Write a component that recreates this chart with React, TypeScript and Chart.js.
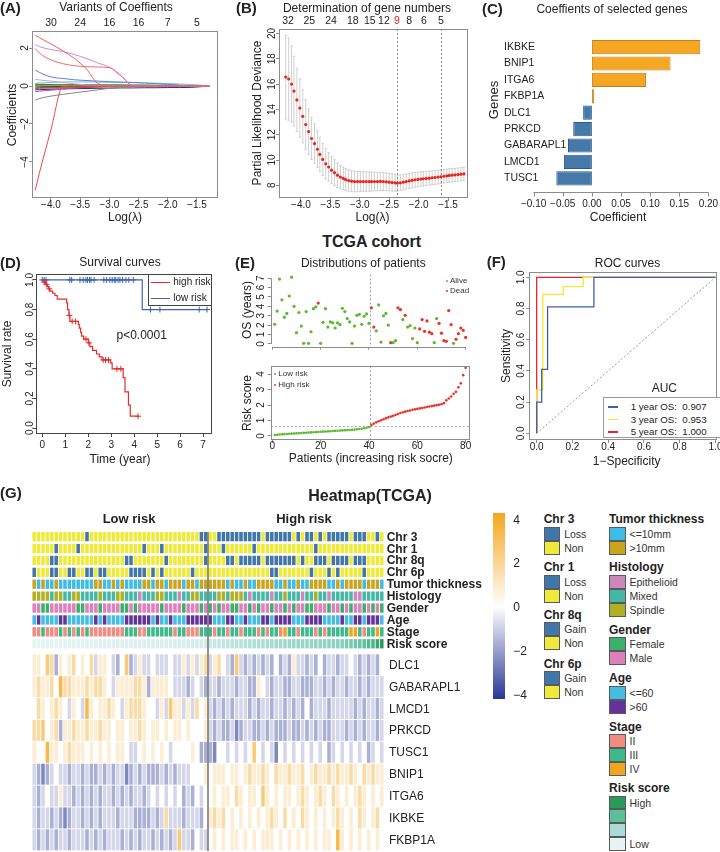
import React, { useEffect, useRef } from "react";
import { Chart, registerables } from "chart.js";

Chart.register(...registerables);

const FONT = "'Liberation Sans', Arial, Helvetica, sans-serif";
Chart.defaults.font.family = FONT;
Chart.defaults.color = "#222";
const MINUS = "\u2212";
const fmt = (v: number, d: number) => (v < -1e-9 ? MINUS : "") + Math.abs(v).toFixed(d);
const AX = "#8c8c8c";

// ================= (A) coefficient paths =================
const lambdaA = [-4.27, -4.2, -4.0, -3.8, -3.6, -3.4, -3.2, -3.0, -2.8, -2.6, -2.4, -2.2, -2.0, -1.8, -1.6, -1.45, -1.29];
const coefA_r1 = [2.68, 2.55, 2.22, 1.86, 1.46, 0.92, 0.14, 0, 0, 0, 0, 0, 0, 0, 0, 0, 0];
const coefA_r2 = [1.98, 1.74, 1.38, 1.18, 1.07, 1.02, 1.0, 0.97, 0.55, 0.02, 0, 0, 0, 0, 0, 0, 0];
const coefA_pk = [2.18, 2.08, 1.92, 1.82, 1.66, 1.46, 1.22, 0.99, 0.52, 0.02, 0, 0, 0, 0, 0, 0, 0];
const coefA_r3 = [-5.5, -4.6, -2.3, -0.05, 0, 0, 0, 0, 0, 0, 0, 0, 0, 0, 0, 0, 0];
const coefA_bl = [0.84, 0.72, 0.48, 0.4, 0.33, 0.29, 0.26, 0.23, 0.21, 0.19, 0.16, 0.13, 0.09, 0.04, 0.01, 0, 0];
const coefA_gy = [-0.74, -0.66, -0.53, -0.44, -0.36, -0.28, -0.2, -0.12, -0.05, 0, 0, 0, 0, 0, 0, 0, 0];
const coefA_lp = [0.36, 0.32, 0.26, 0.19, 0.12, 0.06, 0.02, 0, 0, 0, 0, 0, 0, 0, 0, 0, 0];
const coefA_cy = [0.14, 0.16, 0.19, 0.21, 0.22, 0.22, 0.21, 0.2, 0.19, 0.18, 0.16, 0.15, 0.13, 0.11, 0.08, 0.05, 0];
const coefA_gn = [0.06, 0.07, 0.08, 0.08, 0.08, 0.08, 0.07, 0.07, 0.07, 0.06, 0.06, 0.05, 0.05, 0.04, 0.03, 0.02, 0];
const coefA_nv = [-0.2, -0.19, -0.17, -0.15, -0.14, -0.13, -0.12, -0.11, -0.1, -0.1, -0.09, -0.09, -0.08, -0.08, -0.07, -0.04, 0];
const coefA_pu = [-0.3, -0.27, -0.22, -0.16, -0.1, -0.05, -0.02, 0, 0, 0, 0, 0, 0, 0, 0, 0, 0];
const coefA_ol = [0.03, 0.03, 0.04, 0.04, 0.04, 0.03, 0.03, 0.02, 0.02, 0.01, 0, 0, 0, 0, 0, 0, 0];
const coefA_br = [-0.09, -0.08, -0.07, -0.06, -0.05, -0.04, -0.03, -0.02, -0.01, 0, 0, 0, 0, 0, 0, 0, 0];
const coefA_dg = [0.1, 0.09, 0.08, 0.06, 0.04, 0.02, 0, 0, 0, 0, 0, 0, 0, 0, 0, 0, 0];
const coefA_mg = [-0.13, -0.12, -0.11, -0.1, -0.09, -0.08, -0.06, -0.04, -0.02, 0, 0, 0, 0, 0, 0, 0, 0];
const coefA_bk = [0.0, -0.01, -0.02, -0.03, -0.03, -0.03, -0.03, -0.02, -0.02, -0.01, -0.01, 0, 0, 0, 0, 0, 0];
const coefPathsA = [coefA_r1, coefA_r2, coefA_pk, coefA_r3, coefA_bl, coefA_gy, coefA_lp, coefA_cy, coefA_ol, coefA_br, coefA_mg, coefA_pu, coefA_dg, coefA_nv, coefA_bk, coefA_gn];
const coefColorsA = ["#f25a5a", "#f06a6a", "#cf8ad6", "#f24848", "#5b7fdb", "#858585", "#c8a0e0", "#5ec8d0", "#9a9a2a", "#8b5a2b", "#d03c8c", "#9b59b6", "#2e7d32", "#23307a", "#333333", "#3f9a3f"];
const ticksLogLambda = [-4.0, -3.5, -3.0, -2.5, -2.0, -1.5];
const dfLabelsA = ["30", "24", "16", "16", "7", "5"];

// ================= (B) cross-validation =================
const lambdaB = [-4.26, -4.21, -4.16, -4.12, -4.07, -4.02, -3.97, -3.92, -3.87, -3.82, -3.77, -3.72, -3.68, -3.63, -3.58, -3.53, -3.48, -3.43, -3.38, -3.33, -3.28, -3.24, -3.19, -3.14, -3.09, -3.04, -2.99, -2.94, -2.89, -2.84, -2.8, -2.75, -2.7, -2.65, -2.6, -2.55, -2.5, -2.45, -2.4, -2.36, -2.31, -2.26, -2.21, -2.16, -2.11, -2.06, -2.01, -1.96, -1.92, -1.87, -1.82, -1.77, -1.72, -1.67, -1.62, -1.57, -1.52, -1.48, -1.43, -1.38, -1.33, -1.28, -1.23];
const cvMean = [16.55, 16.4, 16.0, 15.45, 14.75, 14.1, 13.45, 12.8, 12.25, 11.7, 11.3, 10.85, 10.45, 10.05, 9.7, 9.45, 9.2, 9.0, 8.8, 8.65, 8.55, 8.45, 8.38, 8.33, 8.3, 8.3, 8.3, 8.3, 8.3, 8.3, 8.3, 8.3, 8.3, 8.31, 8.3, 8.28, 8.25, 8.22, 8.2, 8.18, 8.2, 8.25, 8.3, 8.35, 8.4, 8.44, 8.47, 8.5, 8.52, 8.55, 8.57, 8.6, 8.62, 8.65, 8.68, 8.72, 8.75, 8.78, 8.8, 8.83, 8.85, 8.88, 8.9];
const cvSd = [3.3, 3.25, 3.0, 2.75, 2.5, 2.3, 2.1, 1.95, 1.8, 1.65, 1.55, 1.45, 1.35, 1.27, 1.2, 1.13, 1.07, 1.02, 0.97, 0.93, 0.9, 0.87, 0.85, 0.83, 0.82, 0.8, 0.79, 0.78, 0.77, 0.76, 0.75, 0.74, 0.73, 0.72, 0.71, 0.7, 0.69, 0.68, 0.66, 0.64, 0.62, 0.61, 0.6, 0.6, 0.59, 0.58, 0.57, 0.57, 0.56, 0.56, 0.55, 0.55, 0.55, 0.54, 0.54, 0.54, 0.53, 0.53, 0.53, 0.52, 0.52, 0.52, 0.52];
const dfB_at = [-4.22, -3.86, -3.49, -3.12, -2.83, -2.59, -2.37, -2.16, -1.91, -1.62];
const dfB_lab = ["32", "25", "24", "18", "15", "12", "9", "8", "6", "5"];
const lambdaMin = -2.37;
const lambda1se = -1.62;

// ================= (C) selected genes =================
const genesC = ["IKBKE", "BNIP1", "ITGA6", "FKBP1A", "DLC1", "PRKCD", "GABARAPL1", "LMCD1", "TUSC1"];
const coefC = [0.186, 0.135, 0.093, 0.004, -0.015, -0.032, -0.041, -0.048, -0.061];
const ticksC = [-0.1, -0.05, 0, 0.05, 0.1, 0.15, 0.2];

// ================= (D) Kaplan-Meier =================
const kmHighT = [0, 0.08, 0.14, 0.22, 0.28, 0.33, 0.45, 0.55, 0.65, 1.06, 1.1, 1.16, 1.2, 1.57, 1.61, 1.67, 1.71, 1.8, 2.0, 2.07, 2.19, 2.36, 2.48, 2.6, 2.97, 3.04, 3.52, 3.6, 3.75, 3.83, 4.17];
const kmHighS = [1, 0.985, 0.97, 0.955, 0.94, 0.925, 0.91, 0.895, 0.87, 0.845, 0.8, 0.76, 0.72, 0.7, 0.675, 0.645, 0.62, 0.6, 0.575, 0.55, 0.525, 0.5, 0.48, 0.46, 0.44, 0.4, 0.34, 0.245, 0.155, 0.08, 0.08];
const censHighT = [0.1, 0.18, 0.3, 1.18, 1.3, 1.45, 1.9, 2.03, 2.65, 2.75, 2.88, 3.25, 3.42, 4.17];
const kmLowT = [0, 4.35, 7.17];
const kmLowS = [1, 0.8, 0.8];
const censLowT = [0.0, 0.08, 0.16, 1.2, 1.28, 1.64, 1.78, 1.9, 1.97, 2.05, 2.12, 2.26, 2.68, 2.8, 2.94, 3.04, 3.13, 3.2, 3.3, 3.38, 3.5, 3.64, 3.77, 3.96, 4.71, 5.12, 6.83, 7.17];

// ================= (E) patient distributions =================
const osYears = [2.1, 3.5, 6.9, 4.7, 2.85, 3.25, 5.1, 7.1, 4.0, 1.2, 3.35, 1.9, 0.07, 3.45, 0.07, 1.3, 3.75, 3.95, 4.35, 0.07, 2.3, 3.75, 1.8, 2.35, 2.25, 1.7, 2.25, 2.05, 3.8, 3.45, 2.7, 2.35, 0.07, 1.9, 3.05, 3.15, 2.1, 2.95, 3.2, 2.2, 3.85, 1.8, 1.4, 4.15, 0.2, 3.0, 3.25, 2.0, 0.14, 0.14, 0.35, 3.85, 3.65, 2.6, 3.05, 1.8, 1.95, 0.57, 1.7, 0.14, 1.6, 2.6, 1.35, 2.45, 1.25, 1.1, 0.14, 2.7, 2.2, 1.15, 0.35, 0.28, 3.55, 2.05, 0.07, 0.5, 1.1, 1.7, 1.45, 0.7];
const osDead = [0, 0, 0, 0, 0, 0, 0, 0, 0, 0, 0, 0, 0, 0, 0, 0, 0, 0, 1, 0, 0, 0, 0, 0, 0, 0, 0, 0, 0, 0, 0, 0, 0, 0, 0, 0, 0, 0, 0, 0, 1, 1, 0, 0, 0, 0, 0, 0, 1, 0, 0, 1, 1, 0, 1, 0, 0, 0, 0, 0, 1, 1, 1, 1, 1, 1, 0, 0, 1, 1, 1, 1, 1, 1, 0, 1, 1, 1, 1, 1];
const riskScore = [0.06, 0.08, 0.1, 0.11, 0.12, 0.13, 0.14, 0.15, 0.16, 0.17, 0.18, 0.19, 0.2, 0.21, 0.22, 0.23, 0.24, 0.25, 0.26, 0.27, 0.28, 0.29, 0.3, 0.31, 0.32, 0.33, 0.34, 0.35, 0.36, 0.37, 0.38, 0.39, 0.4, 0.41, 0.43, 0.45, 0.47, 0.5, 0.53, 0.58,
  0.72, 0.8, 0.88, 0.95, 1.02, 1.08, 1.14, 1.2, 1.25, 1.3, 1.36, 1.42, 1.48, 1.53, 1.57, 1.61, 1.65, 1.69, 1.72, 1.75, 1.78, 1.81, 1.84, 1.87, 1.9, 1.93, 1.96, 1.99, 2.02, 2.05, 2.12, 2.3, 2.42, 2.55, 2.72, 2.85, 3.15, 3.4, 3.93, 4.4];
const riskCutoff = 0.65;
const lowHighSplit = 40.5;

// ================= (F) ROC =================
const roc1X = [0, 0, 0.028, 0.028, 0.061, 0.061, 0.32, 0.32, 1];
const roc1Y = [0, 0.2, 0.2, 0.41, 0.41, 0.81, 0.81, 1, 1];
const roc3X = [0, 0, 0.034, 0.034, 0.149, 0.149, 0.26, 0.26, 1];
const roc3Y = [0, 0.278, 0.278, 0.89, 0.89, 0.94, 0.94, 1, 1];
const roc5X = [0, 0, 1];
const roc5Y = [0, 1, 1];
const aucLabels = ["1 year OS:  0.907", "3 year OS:  0.953", "5 year OS:  1.000"];

// ================= (G) heatmap =================
const chr3 = "YYYYYYYYYY" + "YYBYYYYYYY" + "YYYYYYYYYY" + "YYYYYYYYBB" + "YYBBBBBBBB" + "BBYBBBBBBY" + "BYBBYBYBBB" + "BBYBBBYYBY";
const chr1 = "YYYYYBYYYY" + "BYYYYYYYYY" + "YYYYYBYYYB" + "YYYYYYYYYB" + "YYYBYYYYYY" + "BYYYYYYYYY" + "YYYYBYYYYY" + "YYYYYYYYYY";
const chr8q = "YYYYBBYYYY" + "YYYYYYYYYY" + "YBBYYYYYYY" + "BYYYYYYYYB" + "YYYYBBYBBB" + "BBYBBBBBBB" + "YBYYBBBYBB" + "BBYBBBYYYY";
const chr6p = "BYYYBBYYBB" + "YYBBYBBYYY" + "YYBBBBYBYB" + "YYYYYYBYYY" + "YYYYYYYYYY" + "YYYYBBYYYY" + "YYYBYYYBYB" + "YYYYYBYYYY";
const tumor = "GCGCCGCCCC" + "CCCCGGCCGC" + "GCCCCGGCGG" + "CGGGCGGCGG" + "GGGGCGCCGC" + "CGGGGCCGCC" + "GCCGGGGCCG" + "CGGGGCGGGC";
const histology = "SSSSMSSMMS" + "SMMMMSMMMS" + "SMMMEMMMSS" + "MMMEMMSSMM" + "MMSSMSSSME" + "MMMMEMMSMM" + "MEMMSMMEMM" + "MMMEEMMMMM";
const gender = "MMFFMMMMMM" + "FFMMMFMMMM" + "FFMFMMMMMF" + "MMMMFMMMFM" + "FMFMMFFMMF" + "MFMMFMMFMF" + "MMFFMMMFMM" + "FMFMMFMFMF";
const age = "YOYYYYOOYY" + "YYYYOYOYYY" + "YOOOOOOYOY" + "YOYYYOOOOO" + "OYYYOOYYOY" + "YYOOYOOOOY" + "YYOOOOYYYY" + "OYYOOYOOOY";
const stage = "aabaaababa" + "babaaaaaaa" + "abbbaabbbb" + "bbabbaaabb" + "babbabbabb" + "bababbacbb" + "abbbababbb" + "bbccbabbcb";
// expression codes: value = (digit - 5) * 0.8
const exDLC1 = "6658736567" + "5657466543" + "5834644544" + "4544646467" + "4675438434" + "3434353436" + "4434353443" + "4454343435";
const exGABARAPL1 = "6766759776" + "6676776546" + "6667763666" + "6544434543" + "4434443443" + "3654344334" + "4333443434" + "4344343444";
const exLMCD1 = "5765676546" + "5496566765" + "4677765546" + "4866464756" + "4343434443" + "4344344343" + "4353444344" + "4443434434";
const exPRKCD = "7785673667" + "6676676656" + "6566765665" + "6566565556" + "4343342344" + "3343433343" + "3434343344" + "4343434434";
const exTUSC1 = "6559665676" + "6656565656" + "6544565656" + "5455556533" + "3255454545" + "8545425454" + "5454545345" + "4545453454";
const exBNIP1 = "4323454434" + "4343343434" + "4234343334" + "3434445556" + "5666566567" + "6676576676" + "6756766767" + "6676576766";
const exITGA6 = "4345446443" + "4343434434" + "3434434545" + "4545343545" + "5656657656" + "6586565665" + "6765676576" + "5656765656";
const exIKBKE = "4344343234" + "4343434443" + "4443333434" + "7444344435" + "6767565656" + "5656765756" + "5765656567" + "6565765675";
const exFKBP1A = "4343434434" + "4434343444" + "3434344343" + "4348443544" + "5656566565" + "6566656565" + "6565656659" + "6565656565";
const annoNames = ["Chr 3", "Chr 1", "Chr 8q", "Chr 6p", "Tumor thickness", "Histology", "Gender", "Age", "Stage", "Risk score"];
const geneNamesG = ["DLC1", "GABARAPL1", "LMCD1", "PRKCD", "TUSC1", "BNIP1", "ITGA6", "IKBKE", "FKBP1A"];
const geneCodesG = [exDLC1, exGABARAPL1, exLMCD1, exPRKCD, exTUSC1, exBNIP1, exITGA6, exIKBKE, exFKBP1A];
const colorbarTicks = [4, 2, 0, -2, -4];

// colours
const CHR_C: any = { B: "#4176aa", Y: "#eeea3c" };
const TUM_C: any = { C: "#3ebbe6", G: "#c9a51c" };
const HIS_C: any = { E: "#cc88bb", M: "#45b8a5", S: "#b0b025" };
const GEN_C: any = { F: "#3cb06a", M: "#dd80bb" };
const AGE_C: any = { Y: "#44bde0", O: "#64339a" };
const STG_C: any = { a: "#f28b80", b: "#3dba8a", c: "#efa51f" };
const RISK_STOPS = ["#e6f4f4", "#a8dcd4", "#5cbf99", "#2a9a5a"];
const POS = [246, 166, 30];
const NEG = [40, 55, 150];

const hex = (h: string) => [parseInt(h.slice(1, 3), 16), parseInt(h.slice(3, 5), 16), parseInt(h.slice(5, 7), 16)];
const mix = (a: number[], b: number[], t: number) => `rgb(${Math.round(a[0] + (b[0] - a[0]) * t)},${Math.round(a[1] + (b[1] - a[1]) * t)},${Math.round(a[2] + (b[2] - a[2]) * t)})`;
const heatColor = (v: number) => {
  const t = Math.min(Math.abs(v) / 4, 1);
  return mix([255, 255, 255], v >= 0 ? POS : NEG, t);
};
const riskColor = (s: number) => {
  const mn = Math.min(...riskScore), mx = Math.max(...riskScore);
  const t = (s - mn) / (mx - mn);
  const seg = Math.min(Math.floor(t * 3), 2);
  return mix(hex(RISK_STOPS[seg]), hex(RISK_STOPS[seg + 1]), t * 3 - seg);
};
const kmAt = (T: number[], S: number[], t: number) => {
  let s = S[0];
  for (let i = 0; i < T.length; i++) if (T[i] <= t) s = S[i];
  return s;
};

// ================= layout helpers =================
type CV = { x: number; y: number; w: number; h: number };
type AR = { l: number; t: number; r: number; b: number };
const cvA: CV = { x: 0, y: 0, w: 232, h: 232 }, arA: AR = { l: 32, t: 31, r: 218, b: 198 };
const cvB: CV = { x: 245, y: 0, w: 235, h: 232 }, arB: AR = { l: 279, t: 29, r: 468, b: 198 };
const cvC: CV = { x: 480, y: 20, w: 250, h: 212 }, arC: AR = { l: 504, t: 38.9, r: 716, b: 186.5 };
const cvD: CV = { x: 0, y: 255, w: 225, h: 215 }, arD: AR = { l: 36, t: 274, r: 212.3, b: 434 };
const cvE1: CV = { x: 240, y: 262, w: 240, h: 94 }, arE1: AR = { l: 270.7, t: 274.4, r: 470, b: 346.7 };
const cvE2: CV = { x: 240, y: 354, w: 240, h: 116 }, arE2: AR = { l: 270.7, t: 366, r: 470, b: 440 };
const cvF: CV = { x: 495, y: 258, w: 235, h: 212 }, arF: AR = { l: 529.3, t: 271.7, r: 717.5, b: 440 };
const cvG: CV = { x: 32, y: 532, w: 352, h: 319 };
const CANVASES = [cvA, cvB, cvC, cvD, cvE1, cvE2, cvF, cvG];

const base = (cv: CV, ar: AR, top = false) => ({
  responsive: false,
  maintainAspectRatio: false,
  animation: false,
  devicePixelRatio: 1,
  events: [],
  layout: { padding: { left: 0, bottom: 0, top: top ? 0 : ar.t - cv.y, right: cv.x + cv.w - ar.r } },
  plugins: { legend: { display: false }, tooltip: { enabled: false }, title: { display: false } },
});
const setTicks = (vals: number[]) => (s: any) => {
  s.ticks = vals.map((v) => ({ value: v }));
};
const tfont = { family: FONT, size: 10 };
const axX = (cv: CV, ar: AR, min: number, max: number, ticks: number[], cb: any, pad: number, tickColor = AX, labels = true) => ({
  type: "linear", position: "bottom", min, max, bounds: "data",
  afterBuildTicks: setTicks(ticks),
  afterFit: (s: any) => { s.height = cv.y + cv.h - ar.b; },
  grid: { display: true, drawOnChartArea: false, drawTicks: true, tickLength: 3, color: tickColor },
  border: { display: false },
  ticks: { display: labels, font: tfont, color: "#222", padding: pad, autoSkip: false, maxRotation: 0, minRotation: 0, callback: cb },
});
const axY = (cv: CV, ar: AR, min: number, max: number, ticks: number[], cb: any, pad: number, tickColor = AX) => ({
  type: "linear", position: "left", min, max, bounds: "data",
  afterBuildTicks: setTicks(ticks),
  afterFit: (s: any) => { s.width = ar.l - cv.x; },
  grid: { display: true, drawOnChartArea: false, drawTicks: true, tickLength: 3, color: tickColor },
  border: { display: false },
  ticks: { font: tfont, color: "#222", padding: pad, autoSkip: false, minRotation: 90, maxRotation: 90, crossAlign: "center", callback: cb },
});
const axTop = (cv: CV, ar: AR, min: number, max: number, at: number[], labs: string[], pad: number, color: any = "#222") => ({
  type: "linear", position: "top", min, max, bounds: "data",
  afterBuildTicks: setTicks(at),
  afterFit: (s: any) => { s.height = ar.t - cv.y; },
  grid: { display: false, drawTicks: false },
  border: { display: false },
  ticks: { font: { family: FONT, size: 10.5 }, color, padding: pad, autoSkip: false, maxRotation: 0, minRotation: 0, callback: (_v: any, i: number) => labs[i] },
});

// ================= plugins =================
const frame = (color: string) => ({
  id: "frame",
  afterDatasetsDraw(chart: any) {
    const { ctx, chartArea: a } = chart;
    ctx.save();
    ctx.strokeStyle = color;
    ctx.lineWidth = 1;
    ctx.strokeRect(Math.round(a.left) + 0.5, Math.round(a.top) + 0.5, Math.round(a.right - a.left) - 1, Math.round(a.bottom - a.top) - 1);
    ctx.restore();
  },
});
const refLines = (vx: number[], hy: number[], color = "#a8a8a8") => ({
  id: "refLines",
  beforeDatasetsDraw(chart: any) {
    const { ctx, chartArea: a, scales } = chart;
    ctx.save();
    ctx.strokeStyle = color;
    ctx.lineWidth = 1;
    ctx.setLineDash([2, 2]);
    vx.forEach((v) => {
      const px = Math.round(scales.x.getPixelForValue(v)) + 0.5;
      ctx.beginPath(); ctx.moveTo(px, a.top); ctx.lineTo(px, a.bottom); ctx.stroke();
    });
    hy.forEach((v) => {
      const py = Math.round(scales.y.getPixelForValue(v)) + 0.5;
      ctx.beginPath(); ctx.moveTo(a.left, py); ctx.lineTo(a.right, py); ctx.stroke();
    });
    ctx.restore();
  },
});
const errBars = {
  id: "errBars",
  beforeDatasetsDraw(chart: any) {
    const { ctx, scales: { x, y } } = chart;
    ctx.save();
    ctx.strokeStyle = "#c4c4c4";
    ctx.lineWidth = 0.8;
    lambdaB.forEach((lx, i) => {
      const px = x.getPixelForValue(lx);
      const top = y.getPixelForValue(cvMean[i] + cvSd[i]);
      const bot = y.getPixelForValue(cvMean[i] - cvSd[i]);
      ctx.beginPath();
      ctx.moveTo(px, top); ctx.lineTo(px, bot);
      ctx.moveTo(px - 1.3, top); ctx.lineTo(px + 1.3, top);
      ctx.moveTo(px - 1.3, bot); ctx.lineTo(px + 1.3, bot);
      ctx.stroke();
    });
    ctx.restore();
  },
};
const cAxis = {
  id: "cAxis",
  afterDraw(chart: any) {
    const { ctx, chartArea: a, scales: { x } } = chart;
    const y0 = Math.round(a.bottom + 5) + 0.5;
    ctx.save();
    ctx.strokeStyle = AX;
    ctx.lineWidth = 1;
    ctx.beginPath();
    ctx.moveTo(x.getPixelForValue(ticksC[0]), y0);
    ctx.lineTo(x.getPixelForValue(ticksC[ticksC.length - 1]), y0);
    ticksC.forEach((v) => {
      const px = Math.round(x.getPixelForValue(v)) + 0.5;
      ctx.moveTo(px, y0); ctx.lineTo(px, y0 + 4);
    });
    ctx.stroke();
    ctx.restore();
  },
};
const lAxes = (color: string) => ({
  id: "lAxes",
  afterDatasetsDraw(chart: any) {
    const { ctx, chartArea: a, scales: { x, y } } = chart;
    const xt = x.ticks, yt = y.ticks;
    ctx.save();
    ctx.strokeStyle = color;
    ctx.lineWidth = 1;
    ctx.beginPath();
    const lx = Math.round(a.left) + 0.5, by = Math.round(a.bottom) + 0.5;
    ctx.moveTo(lx, y.getPixelForValue(yt[0].value)); ctx.lineTo(lx, y.getPixelForValue(yt[yt.length - 1].value));
    ctx.moveTo(x.getPixelForValue(xt[0].value), by); ctx.lineTo(x.getPixelForValue(xt[xt.length - 1].value), by);
    ctx.stroke();
    ctx.restore();
  },
});
const divider = {
  id: "divider",
  afterDatasetsDraw(chart: any) {
    const { ctx, chartArea: a, scales: { x } } = chart;
    const px = (x.getPixelForValue(39) + x.getPixelForValue(40)) / 2;
    ctx.save();
    ctx.strokeStyle = "#7a7a7a";
    ctx.lineWidth = 1.6;
    ctx.beginPath(); ctx.moveTo(px, a.top); ctx.lineTo(px, a.bottom); ctx.stroke();
    ctx.restore();
  },
};

// ================= chart configs =================
const cfgA = () => ({
  type: "line",
  data: {
    datasets: coefPathsA.map((p, i) => ({
      data: lambdaA.map((x, j) => ({ x, y: p[j] })),
      borderColor: coefColorsA[i], borderWidth: 1, pointRadius: 0, cubicInterpolationMode: "monotone", fill: false,
    })),
  },
  options: {
    ...base(cvA, arA, true),
    scales: {
      x: axX(cvA, arA, -4.325, -1.14, ticksLogLambda, (v: number) => fmt(v, 1), -1.3),
      x2: axTop(cvA, arA, -4.325, -1.14, ticksLogLambda, dfLabelsA, 1.7),
      y: axY(cvA, arA, -5.9, 2.9, [-4, -2, 0, 2], (v: number) => fmt(v, 0), -1.5),
    },
  },
  plugins: [frame(AX)],
});

const cfgB = () => ({
  type: "scatter",
  data: { datasets: [{ data: lambdaB.map((x, i) => ({ x, y: cvMean[i] })), backgroundColor: "#e8251f", borderWidth: 0, pointRadius: 1.6 }] },
  options: {
    ...base(cvB, arB, true),
    scales: {
      x: axX(cvB, arB, -4.374, -1.16, ticksLogLambda, (v: number) => fmt(v, 1), -1.3),
      x2: axTop(cvB, arB, -4.374, -1.16, dfB_at, dfB_lab, 1.3, (c: any) => (c.index === 6 ? "#e8251f" : "#222")),
      y: axY(cvB, arB, 7.0, 20.35, [8, 10, 12, 14, 16, 18, 20], (v: number) => fmt(v, 0), -1.9),
    },
  },
  plugins: [frame(AX), errBars, refLines([lambdaMin, lambda1se], [], "#8a8a8a")],
});

const cfgC = () => ({
  type: "bar",
  data: {
    labels: genesC,
    datasets: [{
      data: coefC,
      backgroundColor: coefC.map((v) => (v > 0 ? "#f5a623" : "#4479aa")),
      borderColor: coefC.map((v) => (v > 0 ? "#bf7f1c" : "#2d5a86")),
      borderWidth: 1, borderSkipped: false, barPercentage: 0.866, categoryPercentage: 1,
    }],
  },
  options: {
    ...base(cvC, arC),
    indexAxis: "y",
    scales: {
      x: {
        type: "linear", min: -0.1508, max: 0.2085, bounds: "data",
        afterBuildTicks: setTicks(ticksC),
        afterFit: (s: any) => { s.height = cvC.y + cvC.h - arC.b; },
        grid: { display: false, drawTicks: false }, border: { display: false },
        ticks: { font: tfont, color: "#222", padding: 11.5, autoSkip: false, maxRotation: 0, callback: (v: number) => fmt(v, 2) },
      },
      y: {
        type: "category",
        afterFit: (s: any) => { s.width = arC.l - cvC.x; },
        grid: { display: false, drawTicks: false }, border: { display: false },
        ticks: { mirror: true, padding: 0, font: { family: FONT, size: 10.5 }, color: "#222" },
      },
    },
  },
  plugins: [cAxis],
});

const RED = "#e52b2b", BLUE = "#3c64af";
const cfgD = () => ({
  type: "scatter",
  data: {
    datasets: [
      { type: "line", data: kmHighT.map((x, i) => ({ x, y: kmHighS[i] })), stepped: true, borderColor: RED, borderWidth: 1.2, pointRadius: 0, fill: false },
      { type: "line", data: kmLowT.map((x, i) => ({ x, y: kmLowS[i] })), stepped: true, borderColor: BLUE, borderWidth: 1.2, pointRadius: 0, fill: false },
      { data: censHighT.map((t) => ({ x: t, y: kmAt(kmHighT, kmHighS, t) })), pointStyle: "cross", pointRadius: 3, borderColor: RED, borderWidth: 1, backgroundColor: RED },
      { data: censLowT.map((t) => ({ x: t, y: kmAt(kmLowT, kmLowS, t) })), pointStyle: "cross", pointRadius: 3, borderColor: BLUE, borderWidth: 1, backgroundColor: BLUE },
    ],
  },
  options: {
    ...base(cvD, arD),
    scales: {
      x: axX(cvD, arD, -0.274, 7.4, [0, 1, 2, 3, 4, 5, 6, 7], (v: number) => String(v), 2, "#444"),
      y: axY(cvD, arD, -0.04, 1.04, [0, 0.2, 0.4, 0.6, 0.8, 1.0], (v: number) => v.toFixed(1), -4, "#444"),
    },
  },
  plugins: [frame("#444")],
});

const GREEN_E = "#5cb82e", RED_E = "#e8322b";
const cfgE1 = () => ({
  type: "scatter",
  data: {
    datasets: [
      { data: osYears.map((y, i) => ({ x: i + 1, y })).filter((_, i) => !osDead[i]), backgroundColor: GREEN_E, borderWidth: 0, pointRadius: 1.6 },
      { data: osYears.map((y, i) => ({ x: i + 1, y })).filter((_, i) => osDead[i]), backgroundColor: RED_E, borderWidth: 0, pointRadius: 1.6 },
    ],
  },
  options: {
    ...base(cvE1, arE1),
    scales: {
      x: axX(cvE1, arE1, -0.66, 81.8, [0, 20, 40, 60, 80], (v: number) => String(v), 0, AX, false),
      y: axY(cvE1, arE1, -0.29, 7.4, [0, 1, 2, 3, 4, 5, 6, 7], (v: number) => String(v), 3.2),
    },
  },
  plugins: [lAxes(AX), refLines([lowHighSplit], [])],
});

const cfgE2 = () => ({
  type: "scatter",
  data: {
    datasets: [
      { data: riskScore.map((y, i) => ({ x: i + 1, y })).filter((_, i) => i < 40), backgroundColor: GREEN_E, borderWidth: 0, pointRadius: 1.3 },
      { data: riskScore.map((y, i) => ({ x: i + 1, y })).filter((_, i) => i >= 40), backgroundColor: RED_E, borderWidth: 0, pointRadius: 1.3 },
    ],
  },
  options: {
    ...base(cvE2, arE2),
    scales: {
      x: axX(cvE2, arE2, -0.66, 81.8, [0, 20, 40, 60, 80], (v: number) => String(v), -2.3),
      y: axY(cvE2, arE2, -0.26, 4.52, [0, 1, 2, 3, 4], (v: number) => String(v), 3.2),
    },
  },
  plugins: [frame(AX), refLines([lowHighSplit], [riskCutoff])],
});

const ROC_B = "#3b5fa8", ROC_Y = "#eeea30", ROC_R = "#e8232b";
const cfgF = () => ({
  type: "scatter",
  data: {
    datasets: [
      { type: "line", data: [{ x: 0, y: 0 }, { x: 1, y: 1 }], borderColor: "#9a9a9a", borderDash: [2, 2], borderWidth: 1, pointRadius: 0 },
      { type: "line", data: roc1X.map((x, i) => ({ x, y: roc1Y[i] })), borderColor: ROC_B, borderWidth: 1.3, pointRadius: 0 },
      { type: "line", data: roc3X.map((x, i) => ({ x, y: roc3Y[i] })), borderColor: ROC_Y, borderWidth: 1.3, pointRadius: 0 },
      { type: "line", data: roc5X.map((x, i) => ({ x, y: roc5Y[i] })), borderColor: ROC_R, borderWidth: 1.3, pointRadius: 0 },
    ],
  },
  options: {
    ...base(cvF, arF),
    scales: {
      x: axX(cvF, arF, -0.0413, 1.011, [0, 0.2, 0.4, 0.6, 0.8, 1.0], (v: number) => v.toFixed(1), -1.3),
      y: axY(cvF, arF, -0.043, 1.036, [0, 0.2, 0.4, 0.6, 0.8, 1.0], (v: number) => v.toFixed(1), -2.35),
    },
  },
  plugins: [frame(AX)],
});

const ANNO_PITCH = 11.9, ANNO_H = 9.3, GENE_TOP = 122.3, GENE_PITCH = 21.875, GENE_H = 21;
const cfgG = () => {
  const annoColors = [
    chr3.split("").map((c) => CHR_C[c]),
    chr1.split("").map((c) => CHR_C[c]),
    chr8q.split("").map((c) => CHR_C[c]),
    chr6p.split("").map((c) => CHR_C[c]),
    tumor.split("").map((c) => TUM_C[c]),
    histology.split("").map((c) => HIS_C[c]),
    gender.split("").map((c) => GEN_C[c]),
    age.split("").map((c) => AGE_C[c]),
    stage.split("").map((c) => STG_C[c]),
    riskScore.map((s) => riskColor(s)),
  ];
  const geneColors = geneCodesG.map((s) => s.split("").map((d) => heatColor((Number(d) - 5) * 0.8)));
  const rows = [
    ...annoColors.map((cols, i) => ({ cols, top: i * ANNO_PITCH, h: ANNO_H })),
    ...geneColors.map((cols, j) => ({ cols, top: GENE_TOP + j * GENE_PITCH, h: GENE_H })),
  ];
  return {
    type: "bar",
    data: {
      labels: riskScore.map((_, i) => String(i + 1)),
      datasets: rows.map((r) => ({
        data: r.cols.map(() => [r.top, r.top + r.h]),
        backgroundColor: r.cols, borderWidth: 0, grouped: false, barPercentage: 0.8, categoryPercentage: 1,
      })),
    },
    options: {
      ...base(cvG, { l: cvG.x, t: cvG.y, r: cvG.x + cvG.w, b: cvG.y + cvG.h }),
      scales: {
        x: { type: "category", display: false, offset: true },
        y: { type: "linear", display: false, min: 0, max: cvG.h, reverse: true },
      },
    },
    plugins: [divider],
  };
};
const CONFIGS = [cfgA, cfgB, cfgC, cfgD, cfgE1, cfgE2, cfgF, cfgG];

// ================= HTML text helpers =================
const T = ({ t, x, y, s = 12, b = false, r = false, a = "c", c = "#222" }: any) => (
  <div
    style={{
      position: "absolute", left: x, top: y, fontSize: s, fontWeight: b ? 700 : 400, lineHeight: 1, whiteSpace: "pre", color: c,
      transform: `${a === "l" ? "translate(0,-50%)" : "translate(-50%,-50%)"}${r ? " rotate(-90deg)" : ""}`,
    }}
  >
    {t}
  </div>
);

const TEXTS: any[] = [
  { t: "(A)", x: 0, y: 7, s: 15, b: true, a: "l" },
  { t: "Variants of Coeffients", x: 116, y: 6.5 },
  { t: "Log(\u03bb)", x: 125, y: 217 },
  { t: "Coefficients", x: 11.5, y: 115, r: true },
  { t: "(B)", x: 236, y: 7, s: 15, b: true, a: "l" },
  { t: "Determination of gene numbers", x: 367, y: 7.5 },
  { t: "Log(\u03bb)", x: 372.5, y: 217 },
  { t: "Partial Likelihood Deviance", x: 257, y: 113, r: true },
  { t: "(C)", x: 482, y: 7.5, s: 15, b: true, a: "l" },
  { t: "Coeffients of selected genes", x: 612, y: 8.5 },
  { t: "Coefficient", x: 618, y: 217 },
  { t: "Genes", x: 493.3, y: 100, s: 13, r: true },
  { t: "TCGA cohort", x: 371.7, y: 241.7, s: 16, b: true },
  { t: "(D)", x: 0, y: 262, s: 15, b: true, a: "l" },
  { t: "Survival curves", x: 120, y: 262.3 },
  { t: "Time (year)", x: 120, y: 459 },
  { t: "Survival rate", x: 7, y: 354, r: true },
  { t: "p<0.0001", x: 141.7, y: 335 },
  { t: "(E)", x: 235, y: 262, s: 15, b: true, a: "l" },
  { t: "Distributions of patients", x: 363.3, y: 263.3 },
  { t: "OS (years)", x: 247, y: 310, r: true },
  { t: "Risk score", x: 247, y: 403, r: true },
  { t: "Patients (increasing risk socre)", x: 370.8, y: 458.3 },
  { t: "(F)", x: 486.7, y: 261, s: 15, b: true, a: "l" },
  { t: "ROC curves", x: 627.5, y: 263.3 },
  { t: "Sensitivity", x: 506, y: 356, r: true },
  { t: "1\u2212Specificity", x: 626.7, y: 460.7 },
  { t: "(G)", x: 0, y: 492, s: 15, b: true, a: "l" },
  { t: "Heatmap(TCGA)", x: 370, y: 496, s: 16, b: true },
  { t: "Low risk", x: 129, y: 517.7, s: 13, b: true },
  { t: "High risk", x: 304, y: 517.7, s: 13, b: true },
];

const LEG1 = [
  { title: "Chr 3", ty: 519.3, items: [["Loss", CHR_C.B], ["Non", CHR_C.Y]] },
  { title: "Chr 1", ty: 567.3, items: [["Loss", CHR_C.B], ["Non", CHR_C.Y]] },
  { title: "Chr 8q", ty: 614.8, items: [["Gain", CHR_C.B], ["Non", CHR_C.Y]] },
  { title: "Chr 6p", ty: 663.5, items: [["Gain", CHR_C.B], ["Non", CHR_C.Y]] },
];
const LEG2 = [
  { title: "Tumor thickness", ty: 519.3, items: [["<=10mm", TUM_C.C], [">10mm", TUM_C.G]] },
  { title: "Histology", ty: 567.3, items: [["Epithelioid", HIS_C.E], ["Mixed", HIS_C.M], ["Spindle", HIS_C.S]] },
  { title: "Gender", ty: 630, items: [["Female", GEN_C.F], ["Male", GEN_C.M]] },
  { title: "Age", ty: 678.3, items: [["<=60", AGE_C.Y], [">60", AGE_C.O]] },
  { title: "Stage", ty: 726.7, items: [["II", STG_C.a], ["III", STG_C.b], ["IV", STG_C.c]] },
  { title: "Risk score", ty: 788.3, items: [["High", RISK_STOPS[3]], ["", RISK_STOPS[2]], ["", RISK_STOPS[1]], ["Low", RISK_STOPS[0]]], bh: 13.75 },
];

const LegendCol = ({ x, blocks }: any) => (
  <>
    {blocks.map((bl: any, i: number) => {
      const bh = bl.bh || 14;
      return (
        <React.Fragment key={i}>
          <T t={bl.title} x={x} y={bl.ty} s={12} b a="l" />
          {bl.items.map((it: any, j: number) => {
            const top = bl.ty + 7.4 + j * bh;
            return (
              <React.Fragment key={j}>
                <div style={{ position: "absolute", left: x, top, width: 16.7, height: bh, background: it[1], border: "1px solid #5a5a5a", boxSizing: "border-box" }} />
                {it[0] ? <T t={it[0]} x={x + 20.5} y={top + bh / 2} s={10.5} a="l" c="#333" /> : null}
              </React.Fragment>
            );
          })}
        </React.Fragment>
      );
    })}
  </>
);

const Dot = ({ x, y, c, r = 1.4 }: any) => (
  <div style={{ position: "absolute", left: x - r, top: y - r, width: 2 * r, height: 2 * r, borderRadius: "50%", background: c }} />
);
const Line = ({ x, y, w, c, h = 1.5 }: any) => (
  <div style={{ position: "absolute", left: x, top: y - h / 2, width: w, height: h, background: c }} />
);

export default function App() {
  const refs = useRef<(HTMLCanvasElement | null)[]>([]);
  useEffect(() => {
    document.body.style.margin = "0";
    const charts = CONFIGS.map((f, i) => new Chart(refs.current[i] as HTMLCanvasElement, f() as any));
    return () => charts.forEach((c) => c.destroy());
  }, []);

  return (
    <div style={{ position: "absolute", left: 0, top: 0, width: 720, height: 852, overflow: "hidden", background: "#fff", fontFamily: FONT, color: "#222" }}>
      {CANVASES.map((cv, i) => (
        <canvas
          key={i}
          ref={(el) => { refs.current[i] = el; }}
          width={cv.w}
          height={cv.h}
          style={{ position: "absolute", left: cv.x, top: cv.y, width: cv.w, height: cv.h }}
        />
      ))}
      {TEXTS.map((d, i) => (
        <T key={i} {...d} />
      ))}

      {/* D legend */}
      <div style={{ position: "absolute", left: 147.7, top: 274, width: 64.6, height: 32, border: "1px solid #444", boxSizing: "border-box", background: "#fff" }} />
      <Line x={151} y={282.3} w={19} c={RED} />
      <T t="high risk" x={173.3} y={282.3} s={10} a="l" />
      <Line x={151} y={298.3} w={19} c={BLUE} />
      <T t="low risk" x={173.3} y={298.3} s={10} a="l" />

      {/* E legends */}
      <Dot x={446.7} y={281} c={GREEN_E} r={1.2} />
      <T t="Alive" x={450} y={281} s={8} a="l" c="#333" />
      <Dot x={446.7} y={290.7} c={RED_E} r={1.2} />
      <T t="Dead" x={450} y={290.7} s={8} a="l" c="#333" />
      <Dot x={275} y={374} c={GREEN_E} r={1.2} />
      <T t="Low risk" x={278.3} y={374} s={8} a="l" c="#333" />
      <Dot x={275} y={385} c={RED_E} r={1.2} />
      <T t="High risk" x={278.3} y={385} s={8} a="l" c="#333" />

      {/* F legend */}
      <T t="AUC" x={664.3} y={388.3} s={12} />
      <div style={{ position: "absolute", left: 603.3, top: 396.7, width: 120, height: 41.6, border: "1px solid #999", boxSizing: "border-box", background: "#fff" }} />
      {[ROC_B, ROC_Y, ROC_R].map((c, i) => (
        <React.Fragment key={i}>
          <Line x={607.5} y={406.7 + i * 12.8} w={10} c={c} h={1.8} />
          <T t={aucLabels[i]} x={630.7} y={406.7 + i * 12.8} s={9.7} a="l" />
        </React.Fragment>
      ))}

      {/* Heatmap row labels */}
      {annoNames.map((n, i) => (
        <T key={n} t={n} x={386.7} y={532 + i * ANNO_PITCH + ANNO_H / 2} s={12} b a="l" />
      ))}
      {geneNamesG.map((n, j) => (
        <T key={n} t={n} x={389} y={532 + GENE_TOP + j * GENE_PITCH + GENE_H / 2} s={12} a="l" />
      ))}

      {/* Colour bar */}
      <div
        style={{
          position: "absolute", left: 492.7, top: 513.3, width: 12, height: 186,
          background: `linear-gradient(to bottom, rgb(${POS.join(",")}) 0%, #ffffff 50.5%, rgb(${NEG.join(",")}) 100%)`,
        }}
      />
      {colorbarTicks.map((v) => (
        <T key={v} t={fmt(v, 0)} x={513.3} y={607.3 - v * 21.93} s={12} a="l" />
      ))}

      <LegendCol x={543.7} blocks={LEG1} />
      <LegendCol x={609} blocks={LEG2} />
    </div>
  );
}
